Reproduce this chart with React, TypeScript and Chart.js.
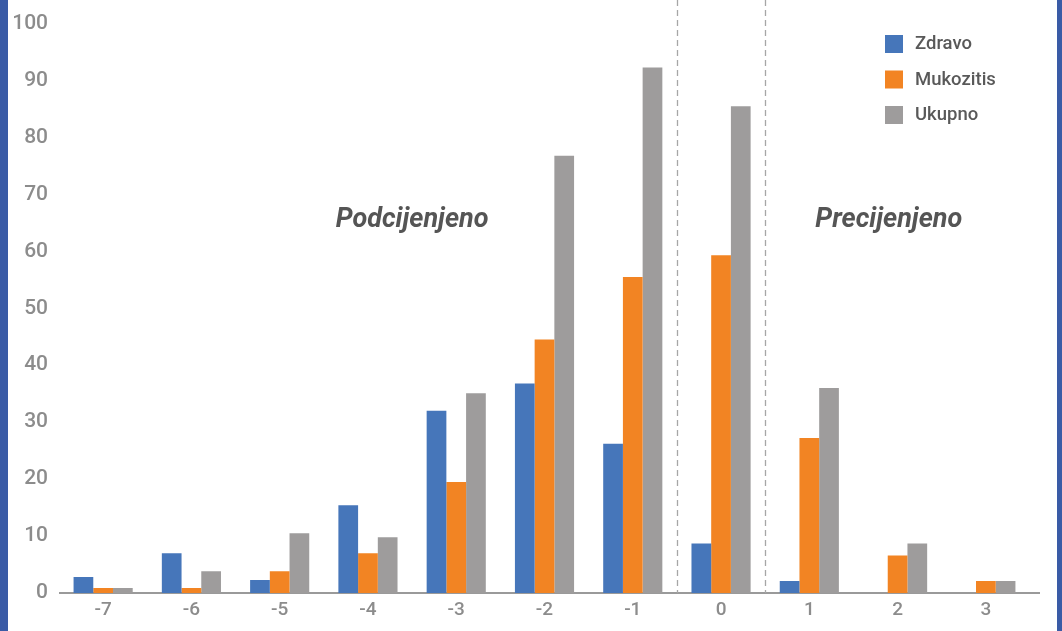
import React, { useEffect, useRef } from "react";
import { Chart, registerables } from "chart.js";

Chart.register(...registerables);

const categories = ["-7", "-6", "-5", "-4", "-3", "-2", "-1", "0", "1", "2", "3"];
const zdravo = [2.8, 7, 2.3, 15.4, 32, 36.8, 26.2, 8.7, 2.1, 0, 0];
const mukozitis = [0.9, 0.9, 3.8, 7, 19.5, 44.5, 55.5, 59.3, 27.2, 6.6, 2.1];
const ukupno = [0.9, 3.8, 10.5, 9.8, 35.1, 76.8, 92.3, 85.5, 36, 8.7, 2.1];
const seriesNames = ["Zdravo", "Mukozitis", "Ukupno"];
const seriesColors = ["#4676BA", "#F28423", "#9E9C9C"];
const annotations = [
  { text: "Podcijenjeno", index: 3.5, value: 65.5 },
  { text: "Precijenjeno", index: 8.9, value: 65.5 },
];
const dividerIndices = [6.5, 7.5];

const overlayPlugin = {
  id: "overlay",
  beforeDatasetsDraw(chart: any) {
    const { ctx, chartArea } = chart;
    ctx.save();
    ctx.strokeStyle = "#9A9A9A";
    ctx.lineWidth = 2;
    ctx.beginPath();
    ctx.moveTo(chartArea.left, chartArea.bottom);
    ctx.lineTo(chartArea.right + 10, chartArea.bottom);
    ctx.stroke();
    ctx.restore();
  },
  afterDatasetsDraw(chart: any) {
    const { ctx, scales, chartArea } = chart;
    const x = scales.x;
    const y = scales.y;
    const step = x.getPixelForValue(1) - x.getPixelForValue(0);
    const px = (idx: number) => x.getPixelForValue(0) + idx * step;
    ctx.save();
    ctx.strokeStyle = "#A6A6A6";
    ctx.lineWidth = 1.3;
    ctx.setLineDash([6, 4]);
    dividerIndices.forEach((d) => {
      const xx = Math.round(px(d)) + 0.5;
      ctx.beginPath();
      ctx.moveTo(xx, 0);
      ctx.lineTo(xx, chartArea.bottom);
      ctx.stroke();
    });
    ctx.setLineDash([]);
    ctx.fillStyle = "#555555";
    ctx.font = "italic bold 27px Roboto";
    ctx.textAlign = "center";
    ctx.textBaseline = "middle";
    annotations.forEach((a) => {
      ctx.fillText(a.text, px(a.index), y.getPixelForValue(a.value));
    });
    ctx.font = "500 18.5px Roboto";
    ctx.textAlign = "left";
    seriesNames.forEach((n, i) => {
      const top = 35 + i * 35.5;
      ctx.fillStyle = seriesColors[i];
      ctx.fillRect(885, top, 18, 18);
      ctx.fillStyle = "#595959";
      ctx.fillText(n, 915, top + 9.5);
    });
    ctx.restore();
  },
};

export default function App() {
  const ref = useRef<HTMLCanvasElement>(null);
  useEffect(() => {
    document.body.style.margin = "0";
    const chart = new Chart(ref.current!, {
      type: "bar",
      data: {
        labels: categories,
        datasets: [zdravo, mukozitis, ukupno].map((d, i) => ({
          label: seriesNames[i],
          data: d,
          backgroundColor: seriesColors[i],
          borderWidth: 0,
          categoryPercentage: 0.67,
          barPercentage: 1,
        })),
      },
      options: {
        responsive: false,
        animation: false,
        devicePixelRatio: 1,
        layout: { padding: { left: 9, right: 32, top: 20, bottom: 0 } },
        plugins: { legend: { display: false }, tooltip: { enabled: false } },
        scales: {
          x: {
            grid: { display: false, drawTicks: false },
            border: { display: false },
            ticks: { color: "#8C8C8C", font: { family: "Roboto", size: 19, weight: 500 }, padding: 6 },
            afterFit: (s: any) => { s.height = 38; },
          },
          y: {
            min: 0,
            max: 100,
            grid: { display: false, drawTicks: false },
            border: { display: false },
            ticks: { stepSize: 10, color: "#8C8C8C", font: { family: "Roboto", size: 21, weight: 500 }, padding: 11 },
            afterFit: (s: any) => { s.width = 50; },
          },
        },
      },
      plugins: [overlayPlugin],
    });
    return () => chart.destroy();
  }, []);
  return (
    <div style={{ position: "relative", width: 1062, height: 631, background: "#fff", overflow: "hidden" }}>
      <canvas ref={ref} width={1062} height={631} style={{ display: "block" }} />
      <div style={{ position: "absolute", left: 0, top: 0, width: 8, height: 631, background: "#3A5BA6" }} />
      <div style={{ position: "absolute", left: 1057, top: 0, width: 5, height: 631, background: "#3A5BA6" }} />
    </div>
  );
}
